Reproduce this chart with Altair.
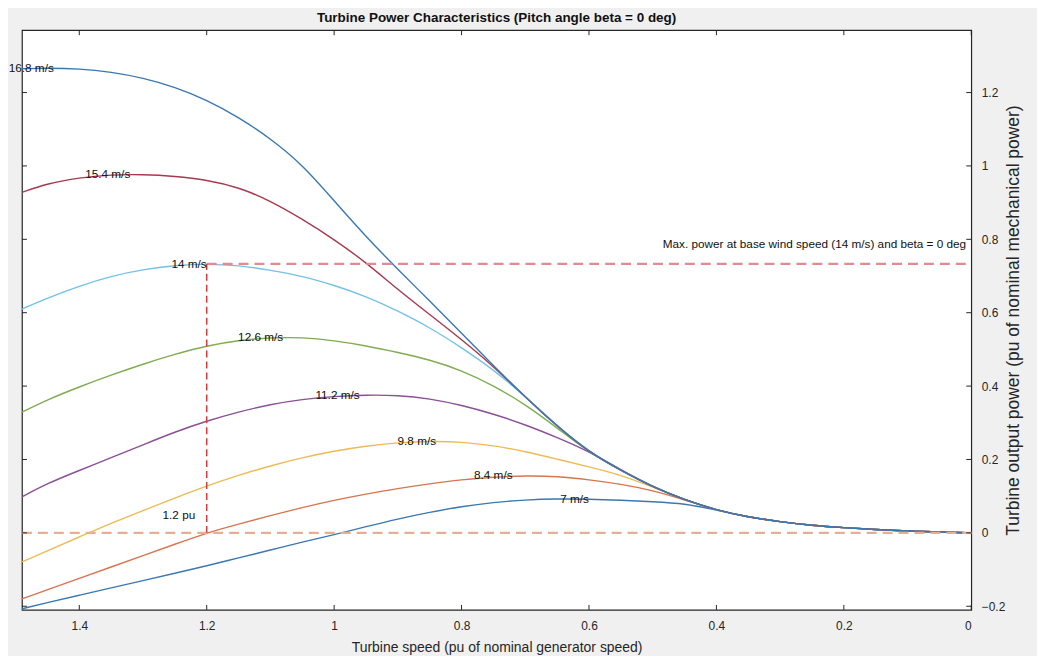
import altair as alt
import pandas as pd

# ---------------- data ----------------
speeds = ["7 m/s", "8.4 m/s", "9.8 m/s", "11.2 m/s", "12.6 m/s", "14 m/s", "15.4 m/s", "16.8 m/s"]
colors = ["#3b78b0", "#d8744e", "#edbb55", "#8a4f98", "#80ab52", "#72c2e8", "#a63a4e", "#3b78b0"]

turbine_speed = [1.49, 1.45, 1.40, 1.35, 1.30, 1.25, 1.20, 1.15, 1.10, 1.05, 1.00, 0.95, 0.90, 0.85,
                 0.80, 0.75, 0.70, 0.65, 0.60, 0.55, 0.50, 0.45, 0.40, 0.35, 0.30, 0.25, 0.20, 0.15,
                 0.10, 0.05, 0.00]

p_7_0 = [-0.207, -0.190, -0.170, -0.150, -0.130, -0.110, -0.090, -0.068, -0.047, -0.025, -0.005, 0.017,
         0.038, 0.056, 0.072, 0.083, 0.090, 0.093, 0.092, 0.089, 0.085, 0.080, 0.062, 0.043, 0.030,
         0.020, 0.014, 0.009, 0.005, 0.002, 0.000]
p_8_4 = [-0.180, -0.155, -0.124, -0.093, -0.062, -0.031, 0.000, 0.024, 0.047, 0.069, 0.089, 0.106,
         0.121, 0.134, 0.145, 0.152, 0.156, 0.154, 0.145, 0.133, 0.116, 0.090, 0.062, 0.043, 0.030,
         0.020, 0.014, 0.009, 0.005, 0.002, 0.000]
p_9_8 = [-0.079, -0.049, -0.011, 0.026, 0.061, 0.095, 0.128, 0.157, 0.183, 0.205, 0.223, 0.237,
         0.246, 0.250, 0.248, 0.238, 0.222, 0.201, 0.180, 0.158, 0.125, 0.090, 0.062, 0.043, 0.030,
         0.020, 0.014, 0.009, 0.005, 0.002, 0.000]
p_11_2 = [0.098, 0.135, 0.170, 0.205, 0.240, 0.275, 0.305, 0.330, 0.350, 0.364, 0.372, 0.376,
          0.375, 0.366, 0.348, 0.324, 0.295, 0.260, 0.222, 0.172, 0.126, 0.090, 0.062, 0.043, 0.030,
          0.020, 0.014, 0.009, 0.005, 0.002, 0.000]
p_12_6 = [0.329, 0.363, 0.398, 0.430, 0.460, 0.487, 0.510, 0.525, 0.532, 0.533, 0.524, 0.510,
          0.492, 0.472, 0.443, 0.402, 0.350, 0.286, 0.219, 0.170, 0.125, 0.090, 0.062, 0.043, 0.030,
          0.020, 0.014, 0.009, 0.005, 0.002, 0.000]
p_14_0 = [0.610, 0.640, 0.673, 0.700, 0.718, 0.729, 0.733, 0.729, 0.716, 0.700, 0.675, 0.645,
          0.605, 0.560, 0.505, 0.445, 0.372, 0.292, 0.221, 0.171, 0.126, 0.090, 0.062, 0.043, 0.030,
          0.020, 0.014, 0.009, 0.005, 0.002, 0.000]
p_15_4 = [0.928, 0.952, 0.968, 0.976, 0.977, 0.972, 0.962, 0.942, 0.905, 0.855, 0.800, 0.737,
          0.663, 0.595, 0.527, 0.454, 0.370, 0.290, 0.220, 0.170, 0.125, 0.090, 0.062, 0.043, 0.030,
          0.020, 0.014, 0.009, 0.005, 0.002, 0.000]
p_16_8 = [1.265, 1.267, 1.265, 1.256, 1.240, 1.215, 1.180, 1.133, 1.075, 1.004, 0.905, 0.807,
          0.718, 0.632, 0.544, 0.456, 0.370, 0.290, 0.220, 0.170, 0.125, 0.090, 0.062, 0.043, 0.030,
          0.020, 0.014, 0.009, 0.005, 0.002, 0.000]

series = [p_7_0, p_8_4, p_9_8, p_11_2, p_12_6, p_14_0, p_15_4, p_16_8]

# peak labels
peak_x = [0.60, 0.72, 0.84, 0.96, 1.08, 1.20, 1.32, 1.44]
peak_y = [0.092, 0.157, 0.251, 0.376, 0.533, 0.733, 0.977, 1.267]

# annotations
ann_text = ["1.2 pu", "Max. power at base wind speed (14 m/s) and beta = 0 deg"]
ann_x = [1.218, 0.008]
ann_y = [0.048, 0.787]

# reference lines
base_speed = 1.2
max_power = 0.733
x_min, x_max = 0.0, 1.49
y_min, y_max = -0.21, 1.37

x_ticks = [0, 0.2, 0.4, 0.6, 0.8, 1.0, 1.2, 1.4]
y_ticks = [-0.2, 0, 0.2, 0.4, 0.6, 0.8, 1.0, 1.2]

# ---------------- build ----------------
W, H = 953, 582
FONT = "Liberation Sans"

rows = []
for name, vals in zip(speeds, series):
    for xv, pv in zip(turbine_speed, vals):
        rows.append({"speed": name, "x": xv, "p": pv})
df = pd.DataFrame(rows)

xscale = alt.Scale(domain=[x_min, x_max], reverse=True, nice=False, zero=False)
yscale = alt.Scale(domain=[y_min, y_max], nice=False, zero=False)

xaxis = alt.Axis(values=x_ticks, format="~g", ticks=False, domain=False, grid=False,
                 labelFont=FONT, labelFontSize=12, labelColor="#262626", labelPadding=11,
                 title="Turbine speed (pu of nominal generator speed)",
                 titleFont=FONT, titleFontSize=14, titleFontWeight="normal",
                 titleColor="#262626", titlePadding=9)
yaxis = alt.Axis(orient="right", values=y_ticks, format="~g", ticks=False, domain=False,
                 grid=False, labelFont=FONT, labelFontSize=12, labelColor="#262626",
                 labelPadding=10,
                 title="Turbine output power (pu of nominal mechanical power)",
                 titleFont=FONT, titleFontSize=17.5, titleFontWeight="normal",
                 titleColor="#262626", titlePadding=18, titleAngle=270)


def X(field):
    return alt.X(field, scale=xscale, axis=xaxis)


def Y(field):
    return alt.Y(field, scale=yscale, axis=yaxis)


lines = alt.Chart(df).mark_line(strokeWidth=1.4, interpolate="basis").encode(
    x=X("x:Q"),
    y=Y("p:Q"),
    color=alt.Color("speed:N", scale=alt.Scale(domain=speeds, range=colors), legend=None),
    detail="speed:N",
)

lab_df = pd.DataFrame({"label": speeds, "x": peak_x, "p": peak_y})
labels = alt.Chart(lab_df).mark_text(align="right", baseline="middle", font=FONT, fontSize=11.8,
                                     color="#111111").encode(
    x=X("x:Q"), y=Y("p:Q"), text="label:N",
)

ann_df = pd.DataFrame({"label": ann_text, "x": ann_x, "p": ann_y})
ann = alt.Chart(ann_df).mark_text(align="right", baseline="middle", font=FONT, fontSize=11.8,
                                  color="#111111").encode(
    x=X("x:Q"), y=Y("p:Q"), text="label:N",
)

zero_df = pd.DataFrame({"x": [x_max], "x2": [x_min], "p": [0.0]})
zero_line = alt.Chart(zero_df).mark_rule(color="#e6ae92", strokeWidth=2.4, strokeDash=[10, 6]).encode(
    x=X("x:Q"), x2="x2:Q", y=Y("p:Q"),
)

max_df = pd.DataFrame({"x": [base_speed], "x2": [x_min], "p": [max_power]})
max_line = alt.Chart(max_df).mark_rule(color="#de8c91", strokeWidth=2.4, strokeDash=[10, 6]).encode(
    x=X("x:Q"), x2="x2:Q", y=Y("p:Q"),
)

vert_df = pd.DataFrame({"x": [base_speed], "p": [0.0], "p2": [max_power]})
vert_line = alt.Chart(vert_df).mark_rule(color="#d43c3c", strokeWidth=1.5, strokeDash=[7, 4]).encode(
    x=X("x:Q"), y=Y("p:Q"), y2="p2:Q",
)

xt_df = pd.DataFrame({"x": x_ticks})
yt_df = pd.DataFrame({"p": y_ticks})
tick_style = dict(color="#262626", strokeWidth=1)
xt_bottom = alt.Chart(xt_df).mark_rule(**tick_style).encode(
    x=X("x:Q"), y=alt.value(H), y2=alt.value(H - 5))
xt_top = alt.Chart(xt_df).mark_rule(**tick_style).encode(
    x=X("x:Q"), y=alt.value(0), y2=alt.value(5))
yt_left = alt.Chart(yt_df).mark_rule(**tick_style).encode(
    y=Y("p:Q"), x=alt.value(0), x2=alt.value(5))
yt_right = alt.Chart(yt_df).mark_rule(**tick_style).encode(
    y=Y("p:Q"), x=alt.value(W), x2=alt.value(W - 5))

chart = alt.layer(
    lines, zero_line, max_line, vert_line, labels, ann, xt_bottom, xt_top, yt_left, yt_right
).properties(
    width=W, height=H,
    title=alt.TitleParams("Turbine Power Characteristics (Pitch angle beta = 0 deg)",
                          font=FONT, fontSize=13.5, fontWeight="bold", color="#111111",
                          anchor="middle", offset=5),
    autosize=alt.AutoSizeParams(type="none"),
    padding={"left": 14, "top": 21, "right": 66, "bottom": 45},
    background="#f0f0f0",
).configure_view(
    fill="white", stroke="#262626", strokeWidth=1.2
)

chart.save("out.html", embed_options={"renderer": "svg", "actions": False})
